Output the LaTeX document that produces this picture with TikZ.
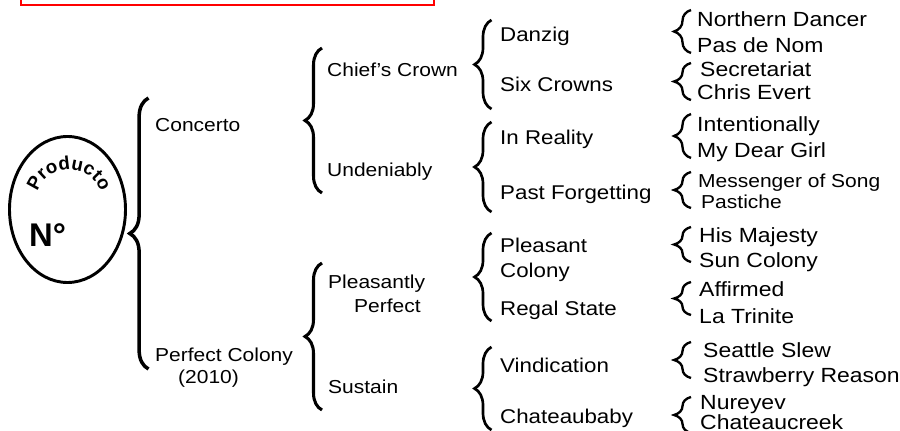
\documentclass[tikz,border=0pt]{standalone}
\usepackage{fontspec}
\setmainfont{Liberation Sans}[FakeStretch=1.12]
\newfontfamily\plainsans{Liberation Sans}
\usetikzlibrary{shapes.geometric, decorations.pathreplacing, decorations.text}

\tikzset{
  lvA/.style={anchor=base west, inner sep=0pt, font=\fontsize{16}{19}\selectfont},
  lvC/.style={anchor=base west, inner sep=0pt, font=\fontsize{17}{20}\selectfont},
  lvD/.style={anchor=base west, inner sep=0pt, font=\fontsize{17.5}{21}\selectfont},
  brc/.style={decorate, decoration={brace, amplitude=14.5pt}},
}

\begin{document}
\begin{tikzpicture}[x=0.03cm, y=-0.03cm]
\useasboundingbox (0,0) rectangle (900,431);

% Red box, cut off at the top
\begin{scope}
\clip (0,0) rectangle (900,431);
\draw[red, line width=2.1pt] (21,-40) rectangle (434,5);
\end{scope}

% Product ellipse
\node[draw, ellipse, line width=2.5pt, minimum width=3.48cm, minimum height=4.38cm, inner sep=0pt] (prod) at (67.5,209.5) {};
\node[anchor=base west, inner sep=0pt, font=\plainsans\bfseries\fontsize{28}{30}\selectfont] (num) at (29,247) {N°};
\path[decorate, decoration={text along path, text={|\plainsans\bfseries\fontsize{16}{18}\selectfont|Producto}, text align=center}]
  (36.5,196) .. controls (43.5,161) and (94.5,161) .. (101.5,196);

% Braces
\draw[brc, line width=3pt, decoration={amplitude=16pt}] (148.5,369) -- (148.5,98);
\foreach \yb/\yt in {193/48, 410/263}
  \draw[brc, line width=2.6pt] (322,\yb) -- (322,\yt);
\foreach \yb/\yt in {109/20, 212/122, 321/233, 430/347}
  \draw[brc, line width=2.3pt] (491.5,\yb) -- (491.5,\yt);
\foreach \yb/\yt in {53/10, 100/63, 158/114, 208/172, 262/227, 315/282, 378/342, 433/397}
  \draw[brc, line width=2pt] (691,\yb) -- (691,\yt);

% Level 1
\node[lvA] (conc) at (155,132) {Concerto};
\node[lvA] (pcol) at (155,361) {Perfect Colony};
\node[lvA] (year) at (178,383) {(2010)};

% Level 2
\node[lvA] (chief) at (327,77) {Chief's Crown};
\node[lvA] (unden) at (327,177) {Undeniably};
\node[lvA] (pleas) at (328,289) {Pleasantly};
\node[lvA] (perf) at (354,313) {Perfect};
\node[lvA] (sust) at (328,393) {Sustain};

% Level 3
\foreach \n/\y/\t in {danz/42/Danzig, sixc/92/Six Crowns, inre/145/In Reality, pastf/200/Past Forgetting,
    plc/253/Pleasant, colo/278/Colony, regal/315/Regal State, vind/372/Vindication, chat/423/Chateaubaby}
  \node[lvC] (\n) at (500,\y) {\t};

% Level 4
\foreach \n/\x/\y/\t in {north/697/27/Northern Dancer, pasn/697/53/Pas de Nom,
    secr/700/77/Secretariat, chris/697/100/Chris Evert,
    inten/697/132/Intentionally, mydear/697/158/My Dear Girl,
    hism/699/243/His Majesty, sunc/699/268/Sun Colony,
    affi/699/297/Affirmed, latri/699/323/La Trinite,
    seat/703/357/Seattle Slew, straw/703/382/Strawberry Reason,
    nure/700/409/Nureyev, chcr/700/429/Chateaucreek}
  \node[lvD] (\n) at (\x,\y) {\t};
\node[lvA] (mess) at (698,188) {Messenger of Song};
\node[lvA] (pasti) at (701,209) {Pastiche};
\end{tikzpicture}
\end{document}
